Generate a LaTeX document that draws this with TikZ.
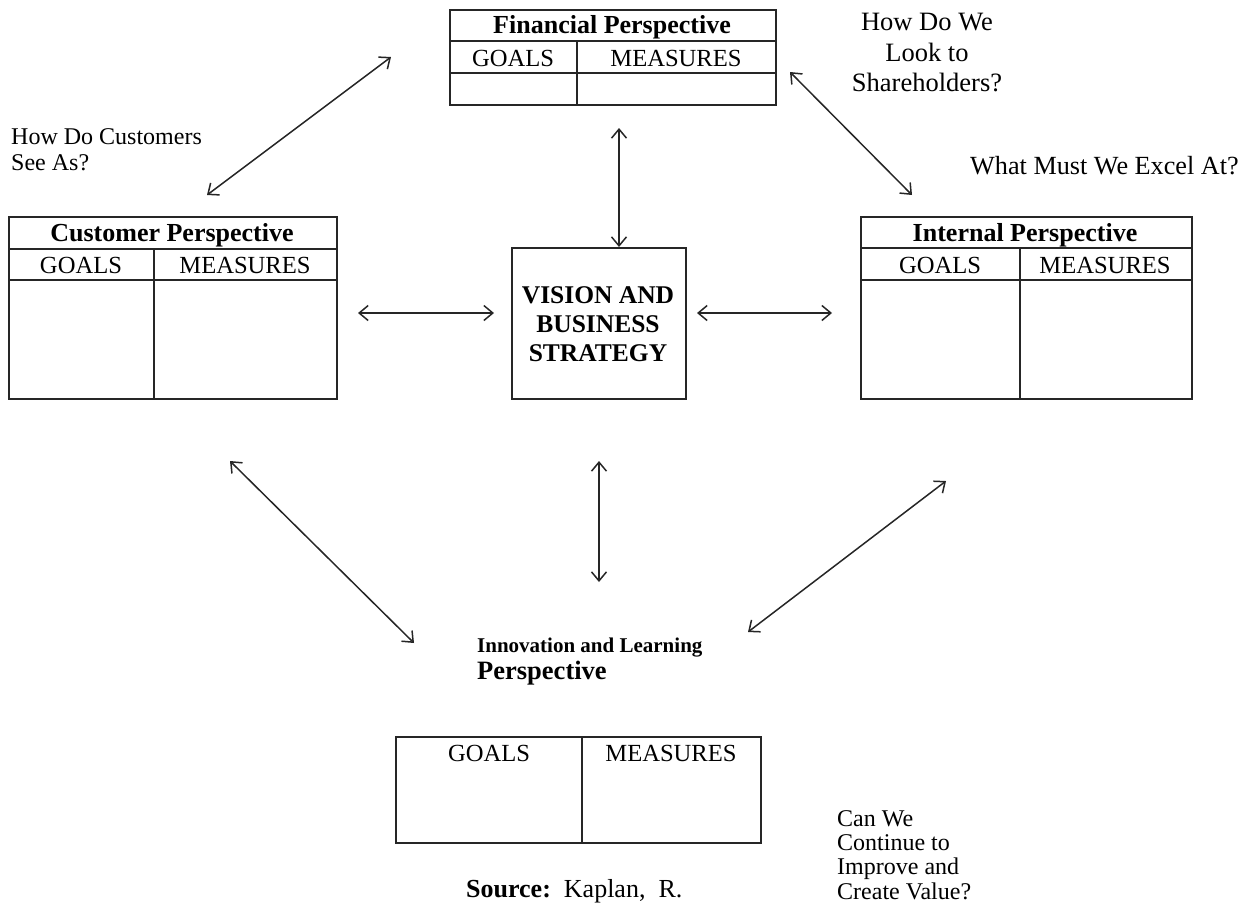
\documentclass[tikz,border=0pt]{standalone}
\usepackage{fontspec}
\setmainfont{Liberation Serif}
\usetikzlibrary{arrows.meta,positioning,calc}

\begin{document}
\begin{tikzpicture}[
				x=1pt,y=-1pt,
				tbl/.style={draw=black!85,line width=1.6pt,anchor=north west,inner sep=0pt},
				ln/.style={draw=black!85,line width=1.6pt},
				hd/.style={font=\fontsize{26}{29}\selectfont\bfseries,inner sep=0pt},
				cell/.style={font=\fontsize{24.6}{28}\selectfont,inner sep=0pt},
				txt/.style={font=\fontsize{24}{26}\selectfont,inner sep=0pt},
				link/.style={{Straight Barb[length=9pt,width=15pt]}-{Straight Barb[length=9pt,width=15pt]},line width=1.5pt,black!85}
				]
				\useasboundingbox (0,0) rectangle (1247,906);
				
				% financial
				\node[tbl,minimum width=326pt,minimum height=95pt] (fin) at (449,9) {};
				\draw[ln] (449,41) -- (775,41); \draw[ln] (449,73) -- (775,73);
				\draw[ln] (577,41) -- (577,104);
				\node[hd] (finT) at (612,27) {Financial Perspective};
				\node[cell] (finG) at (513,58) {GOALS};
				\node[cell] (finM) at (676,58) {MEASURES};
				
				% customer
				\node[tbl,minimum width=328pt,minimum height=182pt] (cust) at (8,216) {};
				\draw[ln] (8,249) -- (336,249); \draw[ln] (8,280) -- (336,280);
				\draw[ln] (154,249) -- (154,398);
				\node[hd] (custT) at (172,235) {Customer Perspective};
				\node[cell] (custG) at (81,265) {GOALS};
				\node[cell] (custM) at (245,265) {MEASURES};
				
				% internal
				\node[tbl,minimum width=331pt,minimum height=182pt] (int) at (860,216) {};
				\draw[ln] (860,248) -- (1191,248); \draw[ln] (860,280) -- (1191,280);
				\draw[ln] (1020,248) -- (1020,398);
				\node[hd] (intT) at (1025,235) {Internal Perspective};
				\node[cell] (intG) at (940,265) {GOALS};
				\node[cell] (intM) at (1105,265) {MEASURES};
				
				% vision
				\node[tbl,minimum width=174pt,minimum height=151pt] (vis) at (511,247) {};
				\node[hd,align=center,font=\fontsize{25.5}{29}\selectfont\bfseries] (visT) at (598,324) {VISION AND\\BUSINESS\\STRATEGY};
				
				% innovation
				\node[tbl,minimum width=365pt,minimum height=106pt] (inn) at (395,736) {};
				\draw[ln] (582,736) -- (582,842);
				\node[cell] (innG) at (489,753) {GOALS};
				\node[cell] (innM) at (671,753) {MEASURES};
				\node[hd,anchor=west,font=\fontsize{21}{24}\selectfont\bfseries] (innT) at (477,648) {Innovation and Learning};
				\node[hd,anchor=west,font=\fontsize{26.5}{29}\selectfont\bfseries] (innP) at (477,673) {Perspective};
				
				% questions
				\node[txt,align=left,anchor=north west] (qCust) at (11,128) {How Do Customers\\See As?};
				\node[txt,align=center,anchor=north,font=\fontsize{26.5}{30.5}\selectfont] (qFin) at (927,13) {How Do We\\Look to\\Shareholders?};
				\node[txt,anchor=west,font=\fontsize{26.2}{29}\selectfont] (qInt) at (970,166) {What Must We Excel At?};
				\node[txt,align=left,anchor=north west,font=\fontsize{24}{24.3}\selectfont] (qInn) at (837,810) {Can We\\Continue to\\Improve and\\Create Value?};
				\node[txt,anchor=west,font=\fontsize{26}{29}\selectfont] (src) at (466,891) {\textbf{Source:}\ \ Kaplan,\ \ R.};
				
				% arrow ends
				\coordinate (finSW) at (391,57);
				\coordinate (custNE) at (207,195);
				\coordinate (finS) at (619,128);
				\coordinate (finSE) at (790,72);
				\coordinate (intN) at (912,195);
				\coordinate (custE) at (358,313);
				\coordinate (visW) at (494,313);
				\coordinate (visE) at (697,313);
				\coordinate (intW) at (832,313);
				\coordinate (custS) at (230,461);
				\coordinate (innNW) at (414,643);
				\coordinate (visS) at (599,461);
				\coordinate (innN) at (599,582);
				\coordinate (intS) at (946,481);
				\coordinate (innNE) at (748,632);
				
				\draw[link] (finSW) -- (custNE);
				\draw[link] (finS) -- (vis.north -| finS);
				\draw[link] (finSE) -- (intN);
				\draw[link] (custE) -- (visW);
				\draw[link] (visE) -- (intW);
				\draw[link] (custS) -- (innNW);
				\draw[link] (visS) -- (innN);
				\draw[link] (intS) -- (innNE);
			\end{tikzpicture}
\end{document}
